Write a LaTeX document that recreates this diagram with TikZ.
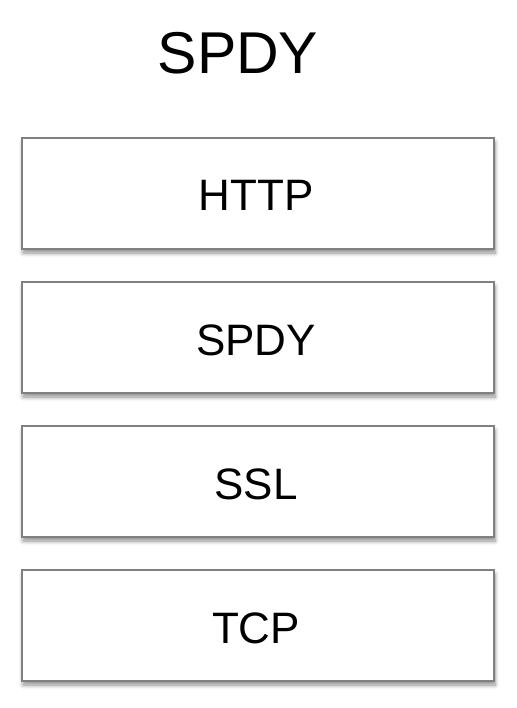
\documentclass[tikz,border=0pt]{standalone}
\usepackage{fontspec}
\setmainfont{Liberation Sans}
\usetikzlibrary{shadows.blur}
\begin{document}
\begin{tikzpicture}[x=1pt,y=-1pt,
  layerbox/.style={draw=black!50, line width=1.2pt, fill=white,
    blur shadow={shadow xshift=1pt, shadow yshift=-4pt, shadow blur steps=6, shadow blur radius=4pt, shadow opacity=45}},
  layertext/.style={font=\fontsize{44}{50}\selectfont, inner sep=0pt}]
\useasboundingbox (0,0) rectangle (516,708);
\node[font=\fontsize{59}{66}\selectfont, inner sep=0pt, anchor=base] (title) at (238,74) {SPDY};
\foreach \n/\t/\y in {http/HTTP/138, spdy/SPDY/282, ssl/SSL/426, tcp/TCP/570}{
  \draw[layerbox] (22,\y) rectangle (494,\y+111);
  \node[layertext, anchor=base] (\n) at (256,\y+73) {\t};
}
\end{tikzpicture}
\end{document}
